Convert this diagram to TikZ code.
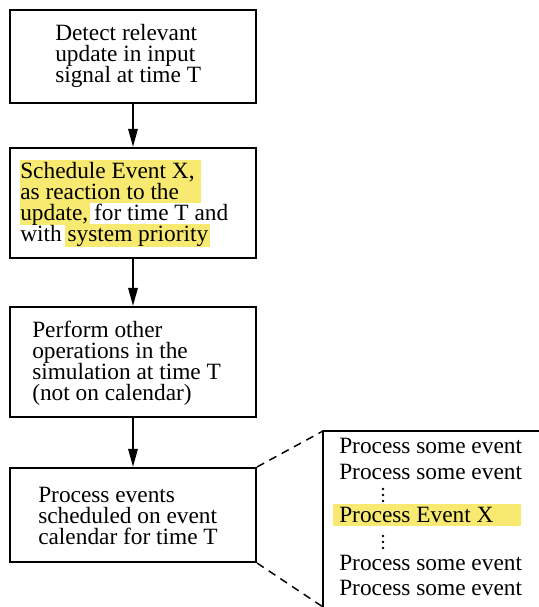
\documentclass[tikz,border=0pt]{standalone}
\usepackage{fontspec}
\setmainfont{Liberation Serif}
\usetikzlibrary{arrows.meta}
\definecolor{hl}{RGB}{248,234,112}
\newcommand{\tightlines}{\lineskiplimit-20pt\relax}
\tikzset{
  box/.style={draw, line width=1.6pt, rectangle, minimum width=184.5pt, inner sep=0pt},
  txt/.style={anchor=north west, inner sep=0pt, align=left,
    font={\fontsize{17.5}{15.75}\selectfont\tightlines}},
  ln/.style={anchor=base west, inner sep=0pt, font=\fontsize{17.5}{18}\selectfont},
  flow/.style={line width=1.5pt, -{Triangle[length=13.5pt,width=7pt]}},
  zoomline/.style={line width=1.1pt, dash pattern=on 6pt off 4.5pt},
  panel/.style={line width=1.2pt},
  hlfill/.style={fill=hl, draw=none},
  dotc/.style={fill=black, draw=none}
}
\begin{document}
\begin{tikzpicture}[x=0.75pt,y=-0.75pt]
\useasboundingbox (0,0) rectangle (539,607);
% boxes
\node[box, minimum height=69.75pt] (b1) at (133,56.5) {};
\node[box, minimum height=82.5pt] (b2) at (133,203) {};
\node[box, minimum height=82.5pt] (b3) at (133,362) {};
\node[box, minimum height=70.5pt] (b4) at (133,515) {};
% highlights in box 2
\fill[hlfill] (20,160) rectangle (201,203);
\fill[hlfill] (20,203) rectangle (90,225);
\fill[hlfill] (65,224) rectangle (210,247);
% texts
\node[txt] (t1) at (55,24) {Detect relevant\\update in input\\signal at time T};
\node[txt] (t2) at (20,162) {Schedule Event X,\\as reaction to the\\update, for time T and\\with system priority};
\node[txt] (t3) at (32,321) {Perform other\\operations in the\\simulation at time T\\(not on calendar)};
\node[txt] (t4) at (38,486.5) {Process events\\scheduled on event\\calendar for time T};
% arrows
\draw[flow] (b1.south) -- (b2.north);
\draw[flow] (b2.south) -- (b3.north);
\draw[flow] (b3.south) -- (b4.north);
% zoomed panel
\coordinate (ptop) at (323,431);
\coordinate (pbot) at (323,607);
\coordinate (pright) at (539,431);
\draw[panel] (pright) -- (ptop) -- (pbot);
\draw[zoomline] (b4.north east) -- (ptop);
\draw[zoomline] (b4.south east) -- (pbot);
\fill[hlfill] (333,504) rectangle (521,526);
\node[ln] (p1) at (339,453) {Process some event};
\node[ln] (p2) at (339,479) {Process some event};
\foreach \y in {489,495,501,536,542,548} \fill[dotc] (383,\y) circle (1.3);
\node[ln] (p3) at (339,522) {Process Event X};
\node[ln] (p4) at (339,570) {Process some event};
\node[ln] (p5) at (339,595) {Process some event};
\end{tikzpicture}
\end{document}
